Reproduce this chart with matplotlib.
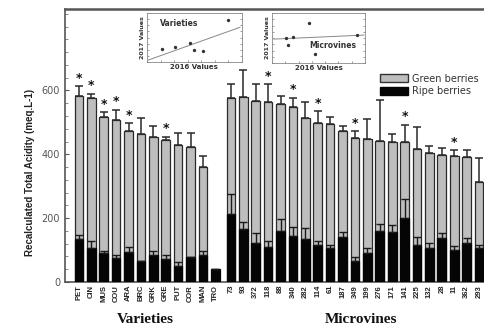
import numpy as np
import matplotlib
matplotlib.use("Agg")
import matplotlib.pyplot as plt
from matplotlib.ticker import MultipleLocator
from matplotlib.patches import Patch

# Varieties
var_labels = ["PET", "CIN", "MUS", "COU", "ARA", "BRC", "GRK", "GRE", "PUT", "COR", "MAN", "TRO"]
var_green = [581, 576, 518, 507, 474, 463, 455, 444, 428, 423, 360, np.nan]
var_green_err = [32, 14, 13, 33, 23, 51, 34, 11, 38, 43, 35, 0]
var_ripe = [135, 107, 90, 75, 93, 65, 85, 73, 50, 78, 85, 42]
var_ripe_err = [13, 20, 8, 10, 16, 0, 11, 12, 14, 0, 13, 0]
var_star = ["PET", "CIN", "MUS", "COU", "ARA", "GRE"]

# Microvines
mic_labels = ["73", "93", "372", "118", "88", "340", "282", "114", "61", "187", "349",
              "199", "276", "171", "141", "225", "132", "28", "11", "362", "293"]
mic_green = [577, 579, 566, 565, 556, 549, 514, 499, 495, 474, 451,
             447, 442, 440, 437, 416, 405, 398, 395, 392, 314]
mic_green_err = [44, 84, 53, 54, 25, 28, 49, 36, 21, 15, 21,
                 64, 129, 25, 56, 70, 21, 21, 18, 21, 75]
mic_ripe = [212, 166, 121, 111, 161, 145, 135, 116, 106, 142, 67,
            90, 161, 158, 200, 117, 106, 137, 101, 122, 106]
mic_ripe_err = [63, 22, 31, 18, 36, 26, 33, 12, 10, 16, 10,
                17, 22, 21, 59, 25, 15, 18, 13, 16, 10]
mic_star = ["118", "340", "114", "349", "141", "11"]

# inset scatter data (2016 vs 2017, arbitrary units)
var_x16 = [16, 30, 45, 50, 59, 85]
var_y17 = [27, 31, 39, 25, 22, 86]
var_fit = [(1, 98), (4, 71)]
mic_x16 = [15, 17, 23, 40, 46, 91]
mic_y17 = [50, 36, 52, 80, 18, 56]
mic_fit = [(2, 99), (48, 56)]

labels = var_labels + mic_labels
green = np.array(var_green + mic_green, dtype=float)
green_err = np.array(var_green_err + mic_green_err, dtype=float)
ripe = np.array(var_ripe + mic_ripe, dtype=float)
ripe_err = np.array(var_ripe_err + mic_ripe_err, dtype=float)
stars = var_star + mic_star

x = np.concatenate([np.arange(len(var_labels)), 12.25 + np.arange(len(mic_labels))])

fig = plt.figure(figsize=(4.84, 3.27), dpi=100)
ax = fig.add_axes([0.1343, 0.1376, 0.8967, 0.8349])

grey = "#bebebe"
w = 0.7
ax.bar(x, green, width=w, color=grey, edgecolor="#2a2a2a", linewidth=0.9, zorder=2)
ax.errorbar(x, green, yerr=[np.zeros_like(green_err), green_err], fmt="none",
            ecolor="#2a2a2a", elinewidth=1.1, capsize=3, capthick=1.1, zorder=3)
ax.bar(x, ripe, width=w, color="#050505", edgecolor="#050505", linewidth=0.9, zorder=4)
ax.errorbar(x, ripe, yerr=[np.zeros_like(ripe_err), ripe_err], fmt="none",
            ecolor="#1a1a1a", elinewidth=1.0, capsize=3, capthick=1.0, zorder=5)

for xi, lab, g, e in zip(x, labels, green, green_err):
    if lab in stars:
        ax.text(xi, g + e + 4, "*", ha="center", va="bottom", fontsize=9,
                fontweight="bold", color="#111111", zorder=6)

ax.set_xlim(-1.12, 33.86)
ax.set_ylim(0, 855)
ax.set_xticks(x)
ax.set_xticklabels(labels, rotation=90, fontsize=5.5, fontweight="bold",
                   family="Liberation Sans", color="#222222")
ax.tick_params(axis="x", length=0, pad=2)
ax.set_yticks([0, 200, 400, 600])
ax.yaxis.set_minor_locator(MultipleLocator(40))
ax.tick_params(axis="y", direction="in", length=3, width=0.8, labelsize=7,
               labelcolor="#555555", color="#555555")
ax.tick_params(axis="y", which="minor", direction="in", length=1.8, width=0.6, color="#777777")
for s in ax.spines.values():
    s.set_color("#555555")
    s.set_linewidth(1.2)
ax.spines["top"].set_linewidth(1.8)

ax.set_ylabel("Recalculated Total Acidity (meq.L-1)", fontsize=7, fontweight="bold",
              family="Liberation Sans", color="#222222")
ax.yaxis.set_label_coords(-0.069, 0.40)

fig.text(0.30, 0.012, "Varieties", ha="center", va="baseline", fontsize=11,
         fontweight="bold", family="Liberation Serif", color="#111111")
fig.text(0.745, 0.012, "Microvines", ha="center", va="baseline", fontsize=11,
         fontweight="bold", family="Liberation Serif", color="#111111")

handles = [Patch(facecolor=grey, edgecolor="#333333", linewidth=1.0, label="Green berries"),
           Patch(facecolor="#050505", edgecolor="#050505", label="Ripe berries")]
fig.legend(handles=handles, loc="upper left", bbox_to_anchor=(0.785, 0.775), frameon=False,
           fontsize=7, handlelength=2.9, handleheight=0.9, handletextpad=0.4,
           labelspacing=0.3, borderpad=0, borderaxespad=0, labelcolor="#333333")


def draw_inset(rect, xs, ys, fit, name, name_xy):
    ia = fig.add_axes(rect)
    ia.scatter(xs, ys, s=2, color="#333333", zorder=3)
    ia.plot(fit[0], fit[1], color="#888888", linewidth=0.7)
    ia.set_xlim(0, 100)
    ia.set_ylim(0, 100)
    ia.set_xticks(np.linspace(0, 100, 8))
    ia.set_yticks(np.linspace(0, 100, 9))
    ia.tick_params(direction="in", length=1.5, width=0.5, color="#777777",
                   labelbottom=False, labelleft=False, right=True)
    for s in ia.spines.values():
        s.set_color("#888888")
        s.set_linewidth(0.6)
    ia.set_xlabel("2016 Values", fontsize=5, fontweight="bold", labelpad=1.5, color="#333333")
    ia.set_ylabel("2017 Values", fontsize=4.5, fontweight="bold", labelpad=1.5, color="#333333")
    ia.text(name_xy[0], name_xy[1], name, transform=ia.transAxes, fontsize=5.5,
            fontweight="bold", color="#333333", va="center")
    return ia


draw_inset([0.3037, 0.810, 0.196, 0.15], var_x16, var_y17, var_fit, "Varieties", (0.14, 0.78))
draw_inset([0.562, 0.807, 0.192, 0.153], mic_x16, mic_y17, mic_fit, "Microvines", (0.40, 0.35))

fig.savefig("out.png", dpi=100)
